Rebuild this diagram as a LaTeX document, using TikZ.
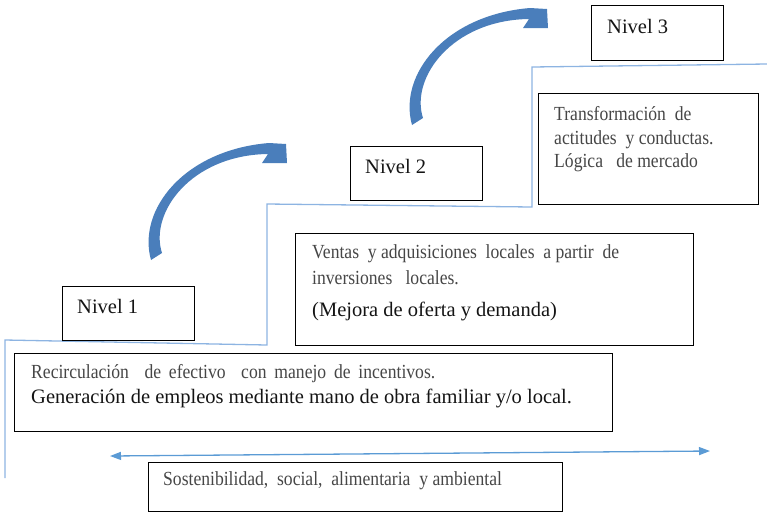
\documentclass[tikz,border=0pt]{standalone}
\usepackage{fontspec}
\setmainfont{Liberation Serif}
\newfontfamily\grayfont[FakeStretch=0.88]{Liberation Serif}
\newfontfamily\darkfont{Liberation Serif}
\usetikzlibrary{arrows.meta}
\definecolor{stairblue}{RGB}{141,180,226}
\definecolor{arrowblue}{RGB}{74,126,187}
\definecolor{linkblue}{RGB}{91,155,213}
\definecolor{txtgray}{RGB}{70,70,70}
\definecolor{txtdark}{RGB}{20,20,20}
\newlength{\widespace}
\setlength{\widespace}{7.8pt}
\tikzset{curvedarrow/.pic={\fill[arrowblue] (412,125) .. controls (398,75) and (445,15) .. (530,8) -- (547,9) -- (548,28) -- (523,28) -- (529,19) .. controls (452,20) and (410,78) .. (423,118) -- cycle;}}
\begin{document}
\begin{tikzpicture}[x=1pt,y=-1pt,
 boxnode/.style={draw=black, line width=1.1pt, anchor=north west, inner sep=0},
 graytxt/.style={anchor=base west, inner sep=0, font=\grayfont\fontsize{20}{24}\selectfont, text=txtgray},
 darktxt/.style={anchor=base west, inner sep=0, font=\darkfont\fontsize{20.5}{24}\selectfont, text=txtdark},
 stair/.style={draw=stairblue, line width=1.3pt},
 link/.style={draw=linkblue, line width=1.3pt, {Triangle[length=11pt,width=8pt]}-{Triangle[length=11pt,width=8pt]}}]
\useasboundingbox (0,0) rectangle (767,515);
% staircase
\draw[stair] (5,478) -- (5,340) -- (267,345) -- (267,204) -- (532,207) -- (532,67) -- (767,64);
% boxes
\node[boxnode, minimum width=132pt, minimum height=54pt] (n1) at (62,286) {};
\node[boxnode, minimum width=132pt, minimum height=54pt] (n2) at (350,146) {};
\node[boxnode, minimum width=132pt, minimum height=55pt] (n3) at (591,5) {};
\node[boxnode, minimum width=220pt, minimum height=111pt] (trans) at (538,93) {};
\node[boxnode, minimum width=398pt, minimum height=112pt] (ventas) at (295,233) {};
\node[boxnode, minimum width=598pt, minimum height=78pt] (recirc) at (14,353) {};
\node[boxnode, minimum width=414pt, minimum height=49pt] (sosten) at (148,462) {};
% texts
\node[darktxt] (t1) at (77,313) {Nivel 1};
\node[darktxt] (t2) at (365,173) {Nivel 2};
\node[darktxt] (t3) at (607,33) {Nivel 3};
\node[graytxt] (tr1) at (554,120) {Transformación~ de};
\node[graytxt] (tr2) at (554,144) {actitudes~ y conductas.};
\node[graytxt] (tr3) at (554,167) {Lógica~~ de mercado};
\node[graytxt] (v1) at (312,258) {Ventas~ y adquisiciones~ locales~ a partir~ de};
\node[graytxt] (v2) at (312,284) {inversiones~~ locales.};
\node[darktxt] (v3) at (312,316) {(Mejora de oferta y demanda)};
\node[graytxt] (r1) at (31,378) {\spaceskip=\widespace Recirculación~ de efectivo~ con manejo de incentivos.};
\node[darktxt] (r2) at (31,403) {Generación de empleos mediante mano de obra familiar y/o local.};
\node[graytxt] (s1) at (163,485) {Sostenibilidad,~ social,~ alimentaria~ y ambiental};
% curved arrows
\pic at (0,0) {curvedarrow};
\pic at (-261,135) {curvedarrow};
% double arrow
\coordinate (dl) at (110,456);
\coordinate (dr) at (710,451);
\draw[link] (dl) -- (dr);
\end{tikzpicture}
\end{document}
